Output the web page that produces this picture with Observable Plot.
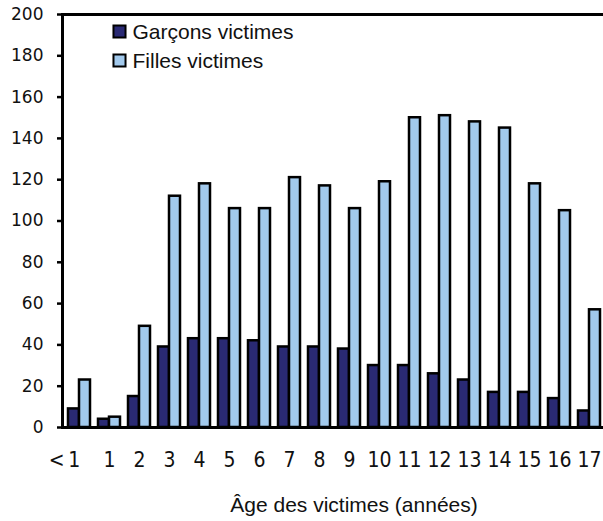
<!DOCTYPE html>
<html>
<head>
<meta charset="utf-8">
<script src="https://cdn.jsdelivr.net/npm/d3@7"></script>
<script src="https://cdn.jsdelivr.net/npm/@observablehq/plot@0.6"></script>
<style>
  html, body { margin: 0; padding: 0; background: #fff; overflow: hidden; }
  #chart svg { display: block; }
</style>
</head>
<body>
<div id="chart"></div>
<script>
const ages = ["<1","1","2","3","4","5","6","7","8","9","10","11","12","13","14","15","16","17"];
const boys = [9, 4, 15, 39, 43, 43, 42, 39, 39, 38, 30, 30, 26, 23, 17, 17, 14, 8];
const girls = [23, 5, 49, 112, 118, 106, 106, 121, 117, 106, 119, 150, 151, 148, 145, 118, 105, 57];
const seriesNames = ["Garçons victimes", "Filles victimes"];
const seriesColors = ["#2a2a74", "#a2c9ec"];
const yTicks = [0, 20, 40, 60, 80, 100, 120, 140, 160, 180, 200];
const xTitle = "Âge des victimes (années)";

const boysData = ages.map((a, i) => ({age: a, value: boys[i]}));
const girlsData = ages.map((a, i) => ({age: a, value: girls[i]}));

const sans = "'Liberation Sans', Arial, Helvetica, sans-serif";
const narrow = "'Liberation Sans Narrow', 'Arial Narrow', 'DejaVu Sans Condensed', sans-serif";

const chart = Plot.plot({
  width: 603,
  height: 521,
  marginLeft: 62,
  marginRight: -2,
  marginTop: 14,
  marginBottom: 94,
  style: {background: "#fff", overflow: "hidden"},
  x: {domain: ages, type: "band", paddingInner: 0.27, paddingOuter: 0.13, axis: null},
  y: {domain: [0, 200], axis: null},
  marks: [
    Plot.barY(boysData, {x: "age", y: "value", fill: seriesColors[0], stroke: "#000", strokeWidth: 2.5, insetRight: 11}),
    Plot.barY(girlsData, {x: "age", y: "value", fill: seriesColors[1], stroke: "#000", strokeWidth: 2.5, insetLeft: 11}),
    Plot.frame({stroke: "#000", strokeWidth: 3}),
    Plot.axisY({ticks: yTicks, tickSize: 5, tickPadding: 14, strokeWidth: 2.5, fontSize: 17, fontFamily: "'DejaVu Sans', sans-serif", fill: "#111", label: null}),
    Plot.axisX({ticks: ages.slice(0, 1), tickFormat: d => d.replace("<", "<\u2009"), tickSize: 0, tickPadding: 25, dx: -15, fontSize: 21, fontFamily: narrow, fill: "#111", label: null}),
    Plot.axisX({ticks: ages.slice(1), tickSize: 0, tickPadding: 25, fontSize: 21, fontFamily: narrow, fill: "#111", label: null}),
    Plot.text([xTitle], {frameAnchor: "bottom", dy: 78, dx: 20, fontSize: 21, fontFamily: sans, fill: "#111", lineAnchor: "middle"}),
    Plot.dot([seriesNames[0]], {frameAnchor: "top-left", dx: 57, dy: 17, symbol: "square", r: 6.8, fill: seriesColors[0], stroke: "#000", strokeWidth: 2}),
    Plot.dot([seriesNames[1]], {frameAnchor: "top-left", dx: 57, dy: 46, symbol: "square", r: 6.8, fill: seriesColors[1], stroke: "#000", strokeWidth: 2}),
    Plot.text([seriesNames[0]], {text: d => d, frameAnchor: "top-left", dx: 70, dy: 18, textAnchor: "start", lineAnchor: "middle", fontSize: 21, fontFamily: sans, fill: "#111"}),
    Plot.text([seriesNames[1]], {text: d => d, frameAnchor: "top-left", dx: 70, dy: 47, textAnchor: "start", lineAnchor: "middle", fontSize: 21, fontFamily: sans, fill: "#111"})
  ]
});
document.getElementById("chart").appendChild(chart);
</script>
</body>
</html>
